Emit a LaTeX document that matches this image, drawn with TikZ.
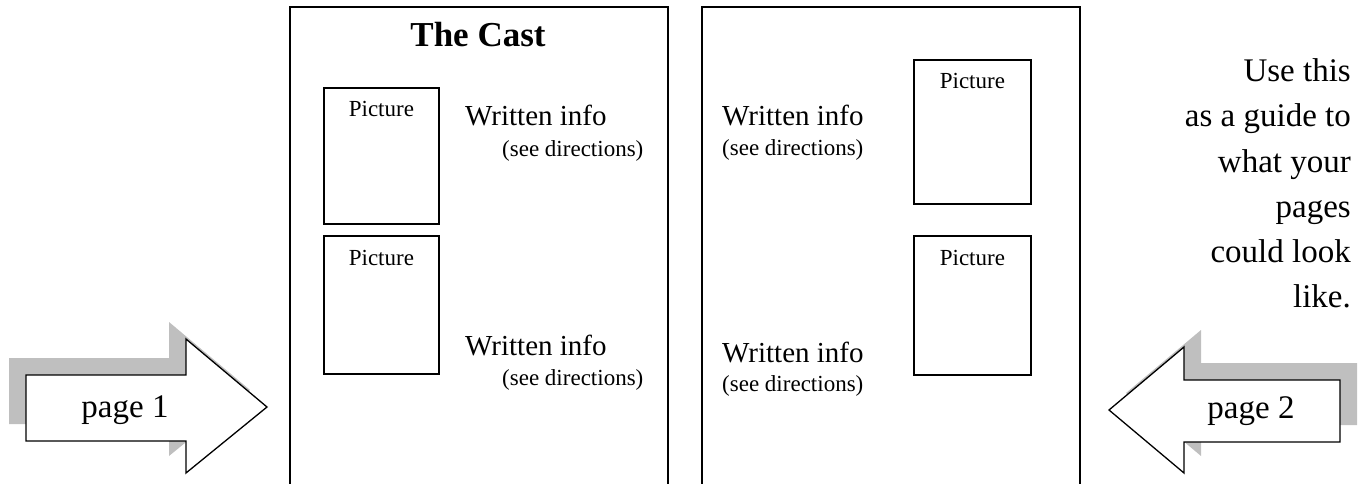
\documentclass[tikz,border=0pt]{standalone}
\usepackage{fontspec}
\setmainfont{Liberation Serif}

\begin{document}
\begin{tikzpicture}[x=1pt,y=-1pt]
        % styles
        \tikzstyle{page}=[draw, line width=1.4pt]
        \tikzstyle{picbox}=[draw, line width=1.8pt, anchor=north west, inner sep=0pt]
        \tikzstyle{pictext}=[font=\fontsize{23}{27}\selectfont, anchor=base, inner sep=0pt]
        \tikzstyle{info}=[font=\fontsize{29}{34}\selectfont, anchor=base west, inner sep=0pt]
        \tikzstyle{dirs}=[font=\fontsize{23}{27}\selectfont, anchor=base west, inner sep=0pt]
        \tikzstyle{guide}=[font=\fontsize{33}{40}\selectfont, anchor=base east, inner sep=0pt]
        \tikzstyle{shade}=[fill=gray!50]
        \tikzstyle{bigarrow}=[draw, fill=white, line width=1.3pt, line join=miter]
        \tikzstyle{arrowtext}=[font=\fontsize{33}{40}\selectfont, anchor=base, inner sep=0pt]

        \useasboundingbox (0,0) rectangle (1359,484);
        \clip (0,0) rectangle (1359,484);

        % pages
        \draw[page] (290,7) rectangle (668,500);
        \draw[page] (702,7) rectangle (1080,500);

        % page 1
        \node[font=\bfseries\fontsize{35}{40}\selectfont, anchor=base, inner sep=0pt] (cast) at (478,47) {The Cast};
        \node[picbox, minimum width=115pt, minimum height=136pt] (pic1) at (323,87) {};
        \node[pictext] at ([yshift=-30pt]pic1.north) {Picture};
        \node[picbox, minimum width=115pt, minimum height=138pt] (pic2) at (323,235) {};
        \node[pictext] at ([yshift=-30pt]pic2.north) {Picture};
        \node[info] (info1) at (465,126) {Written info};
        \node[dirs] (dirs1) at (502,156) {(see directions)};
        \node[info] (info2) at (465,355) {Written info};
        \node[dirs] (dirs2) at (502,385) {(see directions)};

        % page 2
        \node[picbox, minimum width=117pt, minimum height=144pt] (pic3) at (913,59) {};
        \node[pictext] at ([yshift=-30pt]pic3.north) {Picture};
        \node[picbox, minimum width=117pt, minimum height=139pt] (pic4) at (913,235) {};
        \node[pictext] at ([yshift=-30pt]pic4.north) {Picture};
        \node[info] (info3) at (722,126) {Written info};
        \node[dirs] (dirs3) at (722,155) {(see directions)};
        \node[info] (info4) at (722,362) {Written info};
        \node[dirs] (dirs4) at (722,391) {(see directions)};

        % guide text
        \node[guide] (guide1) at (1351,82) {Use this};
        \node[guide] (guide2) at (1351,127) {as a guide to};
        \node[guide] (guide3) at (1351,172) {what your};
        \node[guide] (guide4) at (1351,217) {pages};
        \node[guide] (guide5) at (1351,262) {could look};
        \node[guide] (guide6) at (1351,307) {like.};

        % arrows
        \fill[shade, shift={(-17,-17)}] (26,375) -- (186,375) -- (186,339) -- (267,407) -- (186,473) -- (186,441) -- (26,441) -- cycle;
        \draw[bigarrow] (26,375) -- (186,375) -- (186,339) -- (267,407) -- (186,473) -- (186,441) -- (26,441) -- cycle;
        \node[arrowtext] (p1) at (125,417) {page 1};

        \fill[shade, shift={(17,-17)}] (1340,380) -- (1184,380) -- (1184,347) -- (1109,410) -- (1184,473) -- (1184,442) -- (1340,442) -- cycle;
        \draw[bigarrow] (1340,380) -- (1184,380) -- (1184,347) -- (1109,410) -- (1184,473) -- (1184,442) -- (1340,442) -- cycle;
        \node[arrowtext] (p2) at (1251,418) {page 2};
    \end{tikzpicture}
\end{document}
